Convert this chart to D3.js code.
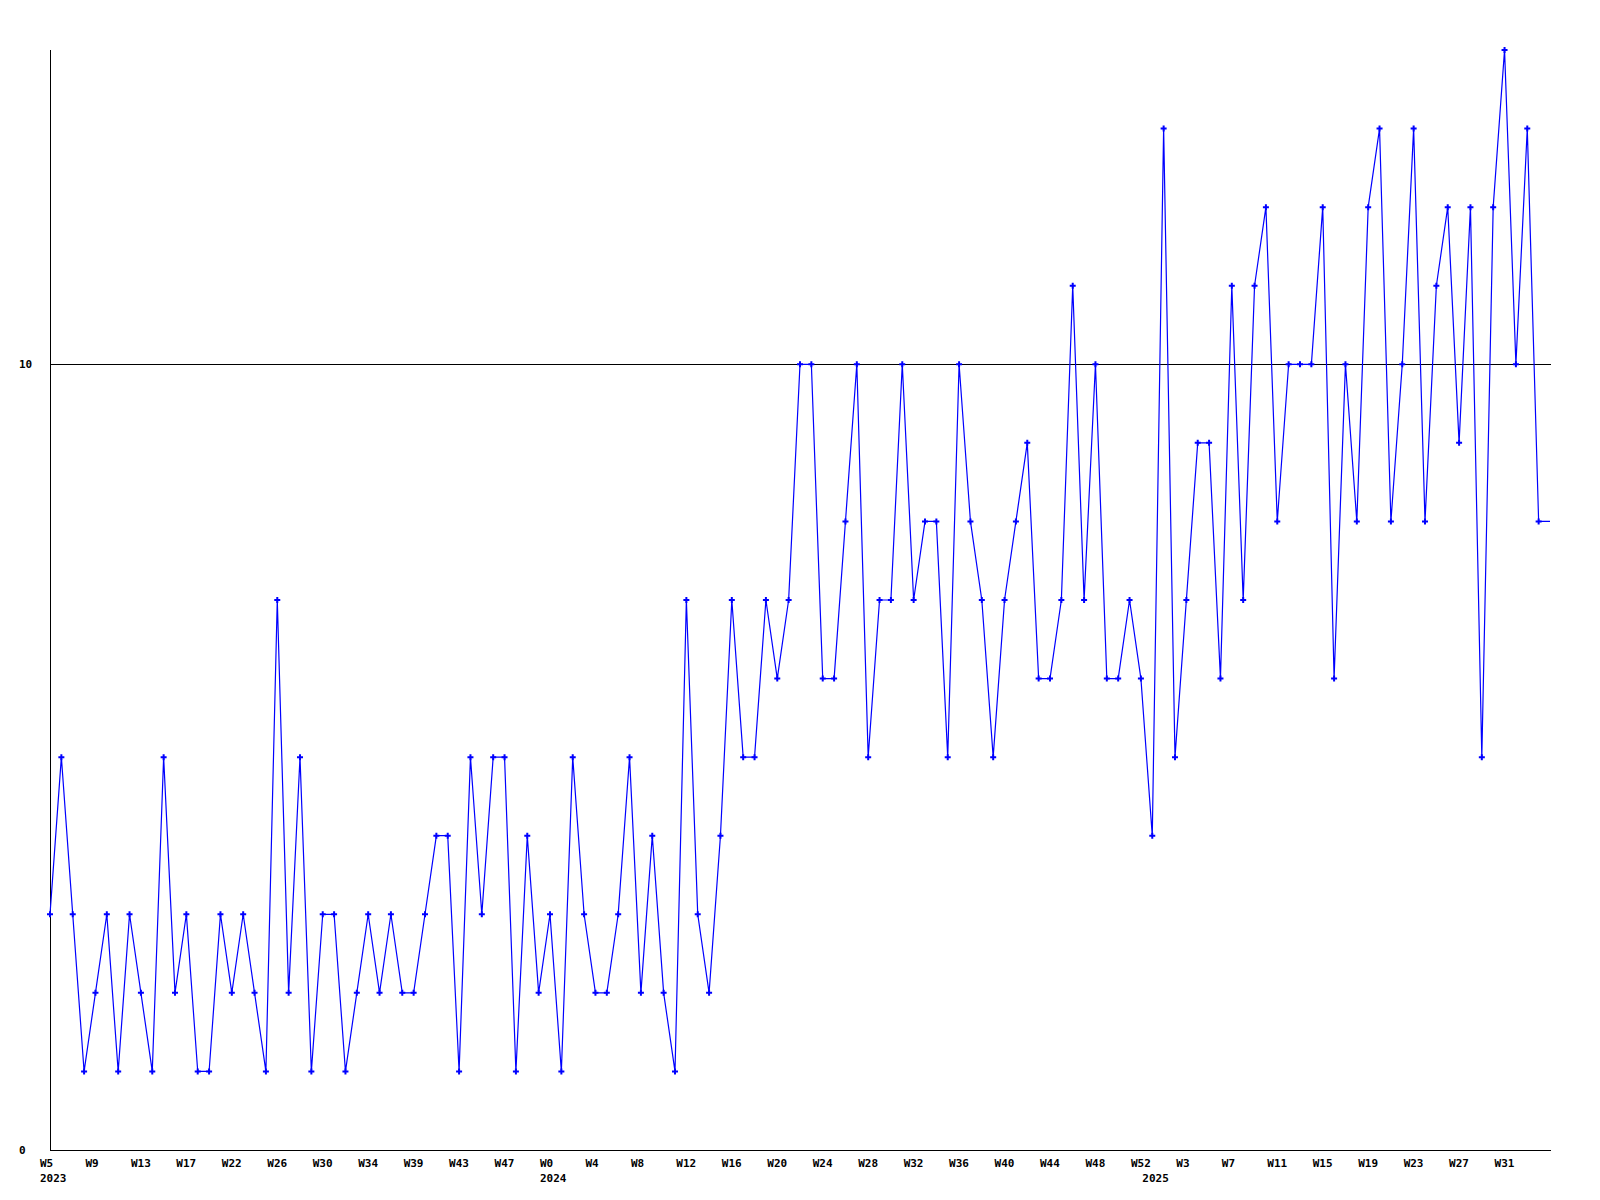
<!DOCTYPE html>
<html>
<head>
<meta charset="utf-8">
<script src="https://cdn.jsdelivr.net/npm/d3@7"></script>
<style>
  html, body { margin: 0; padding: 0; background: #fff; }
  svg { display: block; }
  text { font-family: "DejaVu Sans Mono", monospace; font-weight: bold; font-size: 11px; fill: #000; }
</style>
</head>
<body>
<svg id="chart" width="1600" height="1200"></svg>
<script>
// Weekly values (last value is the current, partial week drawn without a marker)
const values = [
  3,5,3,1,2,3,1,3,2,1,
  5,2,3,1,1,3,2,3,2,1,
  7,2,5,1,3,3,1,2,3,2,
  3,2,2,3,4,4,1,5,3,5,
  5,1,4,2,3,1,5,3,2,2,
  3,5,2,4,2,1,7,3,2,4,
  7,5,5,7,6,7,10,10,6,6,
  8,10,5,7,7,10,7,8,8,5,
  10,8,7,5,7,8,9,6,6,7,
  11,7,10,6,6,7,6,4,13,5,
  7,9,9,6,11,7,11,12,8,10,
  10,10,12,6,10,8,12,13,8,10,
  13,8,11,12,9,12,5,12,14,10,
  13,8,8
];
// Week tick labels, one every 4 points
const weekLabels = ["W5","W9","W13","W17","W22","W26","W30","W34","W39","W43","W47",
  "W0","W4","W8","W12","W16","W20","W24","W28","W32","W36","W40","W44","W48","W52",
  "W3","W7","W11","W15","W19","W23","W27","W31"];
const weekLabelStep = 4;
// Year labels and the index of the first week of each year
const yearLabels = ["2023","2024","2025"];
const yearStartIndex = [0, 44, 97];
// Y ticks
const yTicks = [0, 10];
const yMax = 14;

(function () {
const svg = d3.select("#chart");
const mLeft = 50, mRight = 1551, mTop = 50, mBottom = 1150;

const x = d3.scaleLinear().domain([0, values.length - 1]).range([mLeft, 1550]);
const y = d3.scaleLinear().domain([0, yMax]).range([mBottom, mTop]);

// Gridline at 10 (non-zero ticks)
svg.append("g").selectAll("line").data(yTicks.filter(d => d !== 0)).join("line")
  .attr("x1", mLeft).attr("x2", mRight)
  .attr("y1", d => Math.round(y(d)) + 0.5).attr("y2", d => Math.round(y(d)) + 0.5)
  .attr("stroke", "#000").attr("stroke-width", 1).attr("shape-rendering", "crispEdges");

// Axes lines
svg.append("line").attr("x1", mLeft + 0.5).attr("x2", mLeft + 0.5).attr("y1", mTop).attr("y2", mBottom + 0.5)
  .attr("stroke", "#000").attr("shape-rendering", "crispEdges");
svg.append("line").attr("x1", mLeft).attr("x2", mRight).attr("y1", mBottom + 0.5).attr("y2", mBottom + 0.5)
  .attr("stroke", "#000").attr("shape-rendering", "crispEdges");

// Y labels
svg.append("g").selectAll("text").data(yTicks).join("text")
  .attr("x", 19).attr("y", d => y(d) + 4)
  .text(d => d);

// Week labels
svg.append("g").selectAll("text").data(weekLabels).join("text")
  .attr("x", (d, i) => x(i * weekLabelStep) - 10)
  .attr("y", 1167)
  .text(d => d);

// Year labels
svg.append("g").selectAll("text").data(yearLabels).join("text")
  .attr("x", (d, i) => x(yearStartIndex[i]) - 10)
  .attr("y", 1182)
  .text(d => d);

// Data line
const line = d3.line().x((d, i) => x(i)).y(d => y(d));
svg.append("path").datum(values)
  .attr("d", line)
  .attr("fill", "none").attr("stroke", "#0000ff").attr("stroke-width", 1.2);

// Markers (all but the last, partial point)
svg.append("g").selectAll("path").data(values.slice(0, values.length - 1)).join("path")
  .attr("transform", (d, i) => `translate(${x(i)},${y(d)})`)
  .attr("d", d3.symbol().type(d3.symbolCross).size(20))
  .attr("fill", "#0000ff");
})();
</script>
</body>
</html>
